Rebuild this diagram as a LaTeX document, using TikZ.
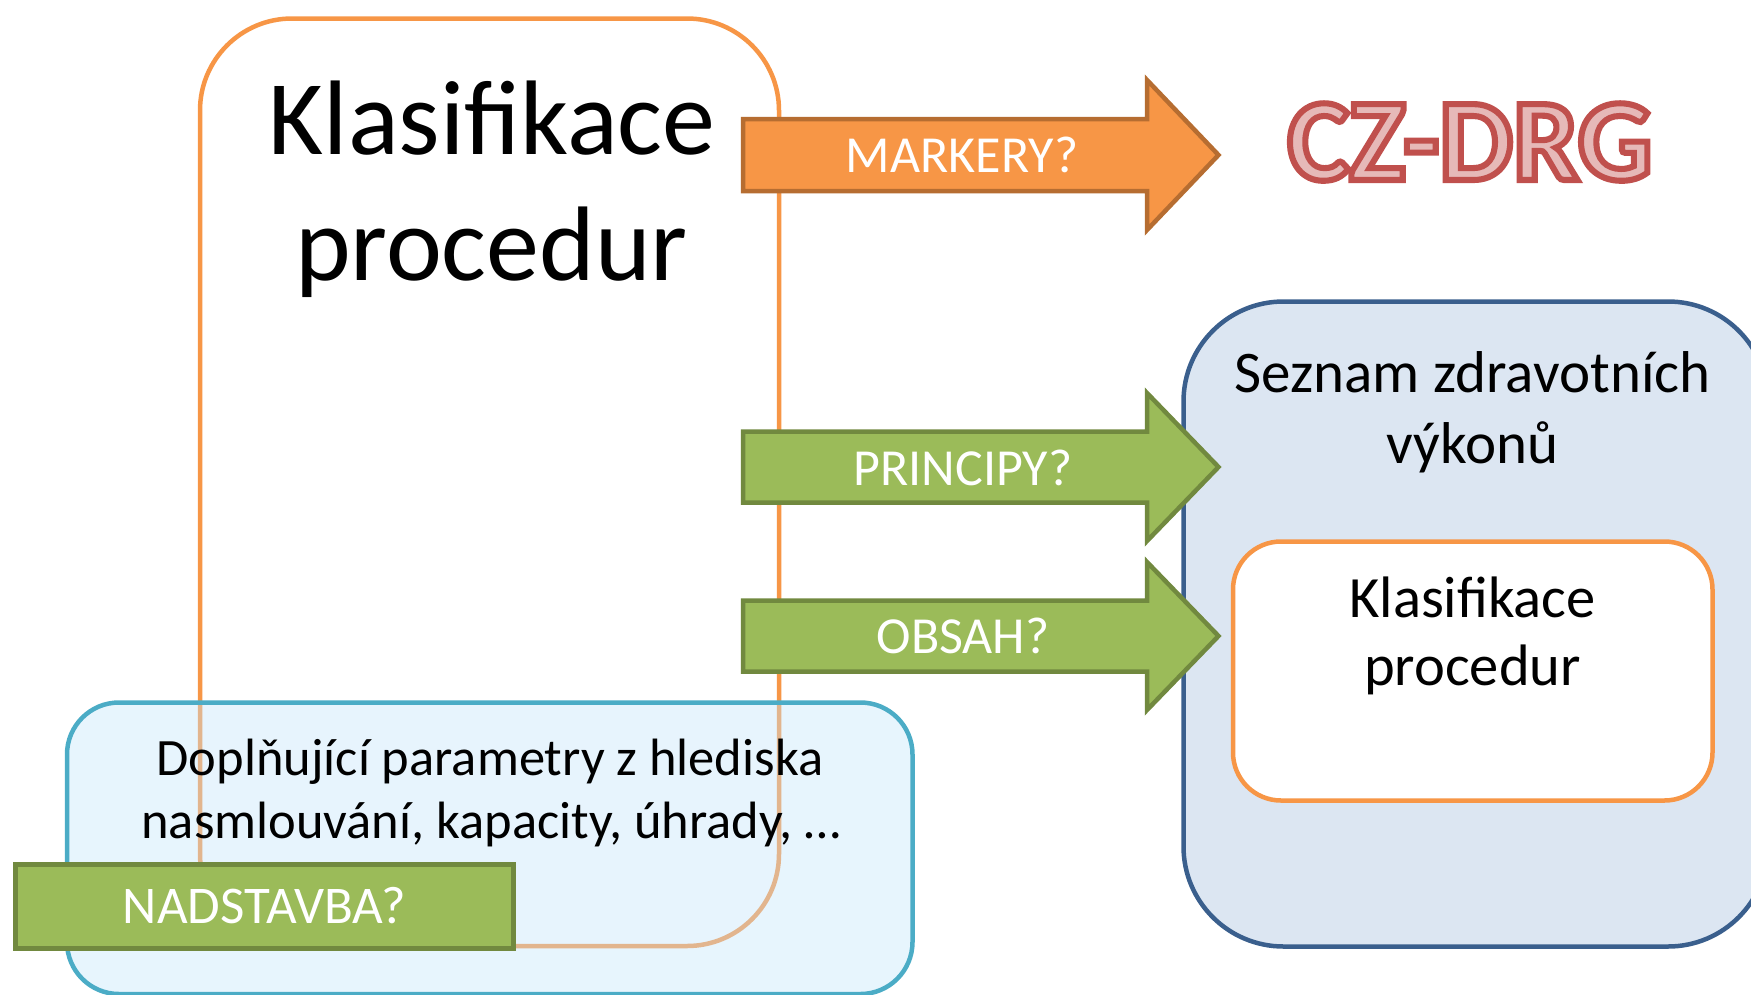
\documentclass[tikz,border=0pt]{standalone}
\usepackage{fontspec}
\setmainfont{Carlito}
\newfontfamily\czoutfont[FakeBold=5.2]{Carlito Bold}
\definecolor{orgline}{HTML}{F79646}
\definecolor{orgfill}{HTML}{F79646}
\definecolor{orgdark}{HTML}{B66D31}
\definecolor{grnfill}{HTML}{9BBB59}
\definecolor{grnline}{HTML}{71893F}
\definecolor{cyanline}{HTML}{4BACC6}
\definecolor{cyanfill}{RGB}{196,229,250}
\definecolor{navyline}{HTML}{3A5F8D}
\definecolor{navyfill}{HTML}{DCE6F2}
\definecolor{czfill}{HTML}{E6B9B8}
\definecolor{czline}{HTML}{C0504D}
\begin{document}
\begin{tikzpicture}[x=1pt,y=-1pt,
  txt/.style={inner sep=0pt, anchor=base, font=\fontsize{#1}{#1}\selectfont},
  wtxt/.style={txt=#1, text=white},
  orgbox/.style={draw=orgline, line width=4.5pt, fill=white},
  orgarrow/.style={draw=orgdark, fill=orgfill, line width=4.5pt, line join=miter},
  grnarrow/.style={draw=grnline, fill=grnfill, line width=4.5pt, line join=miter},
  cyanbox/.style={draw=cyanline, line width=4.5pt, fill=cyanfill, fill opacity=0.4},
  navybox/.style={draw=navyline, line width=4.5pt, fill=navyfill},
  grnbox/.style={draw=grnline, fill=grnfill, line width=4.5pt}]
\useasboundingbox (0,0) rectangle (1751,994);

% big orange box
\draw[orgbox, rounded corners=92pt] (200,18.5) rectangle (779,946);
\node[txt=106] (k1) at (492,154) {Klasifikace};
\node[txt=106] (k2) at (491.5,280) {procedur};

% right box
\draw[navybox, rounded corners=100pt] (1183.5,301.5) rectangle (1768,946.5);
\node[txt=59] (s1) at (1472.5,392) {Seznam zdravotních};
\node[txt=59] (s2) at (1472.5,463) {výkonů};
\draw[orgbox, rounded corners=48pt] (1233,541.5) rectangle (1712.5,800.5);
\node[txt=58.5] (kk1) at (1472.5,617) {Klasifikace};
\node[txt=58.5] (kk2) at (1472.5,685) {procedur};

% arrows
\draw[orgarrow] (743,119) -- (1147,119) -- (1147,80) -- (1218.5,155) -- (1147,230) -- (1147,191) -- (743,191) -- cycle;
\node[wtxt=52] (markery) at (962,172) {MARKERY?};

\draw[grnarrow] (743,431.5) -- (1147,431.5) -- (1147,393) -- (1218.5,467) -- (1147,541) -- (1147,502.5) -- (743,502.5) -- cycle;
\node[wtxt=52] (principy) at (963,485) {PRINCIPY?};

\draw[grnarrow] (743,600.5) -- (1147,600.5) -- (1147,562) -- (1218.5,636) -- (1147,710) -- (1147,671.5) -- (743,671.5) -- cycle;
\node[wtxt=52] (obsah) at (963,653) {OBSAH?};

% CZ-DRG: pink fill, red outline (stroke colour set directly)
\node[inner sep=0pt, anchor=base, text=czfill, font=\czoutfont\fontsize{117}{117}\selectfont] (cz) at (1470,180) {\special{pdf:code 0.753 0.314 0.302 RG}CZ-DRG};

% bottom-left cyan box
\draw[cyanbox, rounded corners=52pt] (67,702.5) rectangle (912.5,994);
\node[txt=52.5] (d1) at (490,775) {Doplňující parametry z hlediska};
\node[txt=52.5] (d2) at (491,838) {nasmlouvání, kapacity, úhrady, …};

% NADSTAVBA
\draw[grnbox] (15.5,864.5) rectangle (513.5,948.5);
\node[wtxt=53] (nad) at (264.5,923) {NADSTAVBA?};
\end{tikzpicture}
\end{document}
